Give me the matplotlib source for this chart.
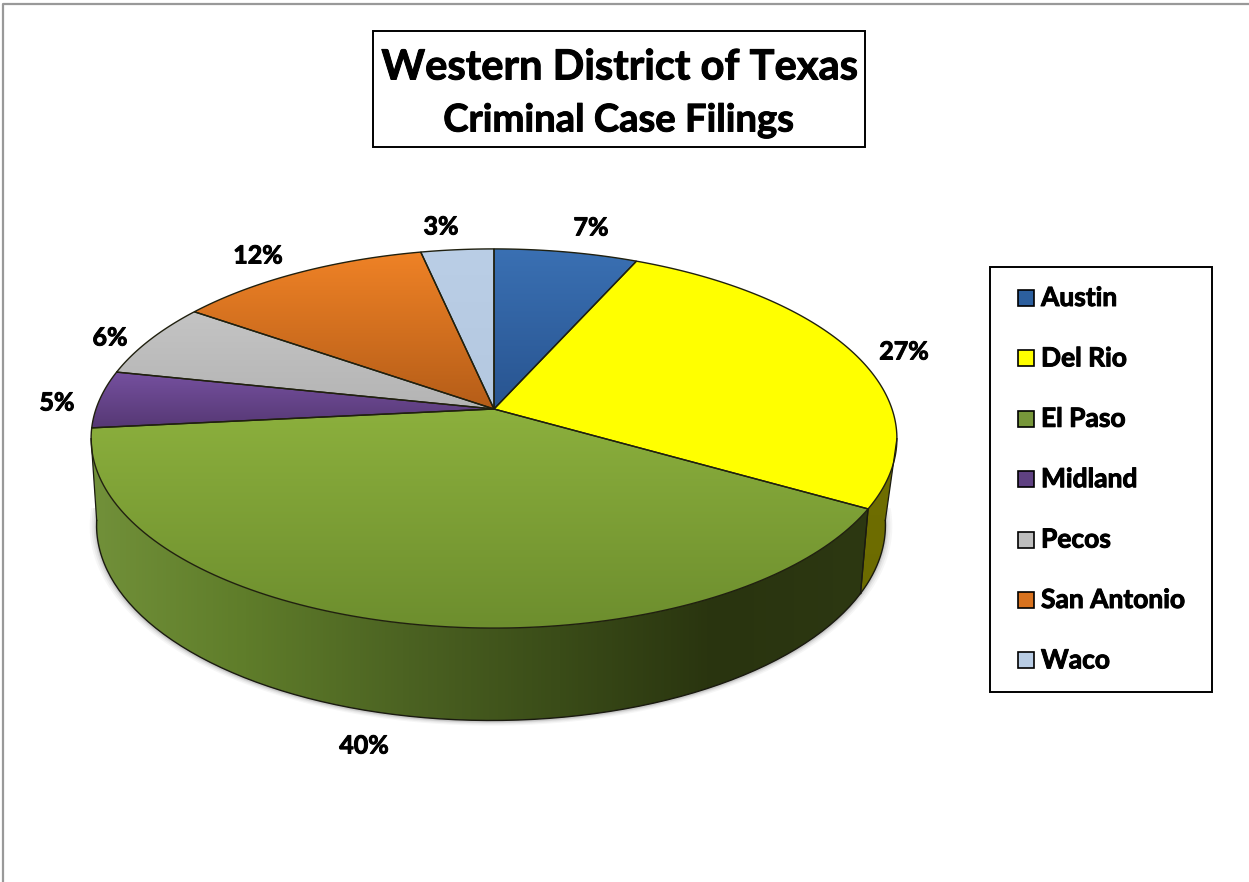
#!/usr/bin/env python3
import numpy as np
import matplotlib
matplotlib.use('Agg')
import matplotlib.pyplot as plt
import matplotlib.patheffects as pe
from matplotlib.colors import LinearSegmentedColormap
from matplotlib.patches import Polygon, Rectangle

# data
cities = ['Austin', 'Del Rio', 'El Paso', 'Midland', 'Pecos', 'San Antonio', 'Waco']
shares = [6.7, 26.6, 40.1, 4.9, 6.4, 11.9, 3.4]

# top and bottom colour of each top face
top_colors = ['#3a70b3', '#ffff00', '#8cb03d', '#75509f', '#c4c4c4', '#ef8226', '#bacee6']
low_colors = ['#285490', '#ffff00', '#6d8e2e', '#563874', '#b4b4b4', '#b55d18', '#b4c8e0']
swatch_colors = ['#2c5f9e', '#ffff00', '#77973a', '#5f4182', '#bdbdbd', '#d9731f', '#b9cde5']

label_xy = [(591, 228), (904, 352), (364, 746), (57, 403), (110, 338), (258, 256), (441, 227)]

CX, CY = 494, 409
HEAVY = [pe.withStroke(linewidth=0.7, foreground='black')]


def top_face(deg):
    t = np.radians(deg)
    u, v = np.sin(t), np.cos(t)
    d = 1 + 0.1556 * v
    return CX + 398 * u / d, CY - 185 * v / d


def bottom_face(deg):
    t = np.radians(deg)
    u, v = np.sin(t), np.cos(t)
    d = 1 + 0.18 * v
    return CX - 3 + 388 * u / d, 490 - 189 * v / d


def gradient_fill(ax, verts, colors, horizontal=False, extent=None):
    cmap = LinearSegmentedColormap.from_list('g', colors)
    xs, ys = zip(*verts)
    if extent is None:
        extent = (min(xs), max(xs), max(ys), min(ys))
    grad = np.linspace(0, 1, 256)
    grad = grad.reshape(1, -1) if horizontal else grad.reshape(-1, 1)
    im = ax.imshow(grad, cmap=cmap, extent=extent, aspect='auto', zorder=3,
                   interpolation='bilinear')
    patch = Polygon(verts, closed=True, transform=ax.transData, fc='none', ec='none')
    ax.add_patch(patch)
    im.set_clip_path(patch)


fig = plt.figure(figsize=(12.49, 8.82), dpi=100)
ax = fig.add_axes([0, 0, 1, 1])
plt.rcParams['font.family'] = ['Lato', 'DejaVu Sans']

# outer border
ax.plot([3.5, 3.5, 1249], [882, 3.5, 3.5], color='#999999', lw=1.6, zorder=1)

stops = np.cumsum([0] + shares) / np.sum(shares) * 360

# soft shadow under the wall
arc = np.linspace(95, 265, 120)
for grow, alpha in zip([7, 5, 3, 1.5], [0.05, 0.07, 0.1, 0.14]):
    pts = [(bottom_face(a)[0] + grow * np.sin(np.radians(a)),
            bottom_face(a)[1] - grow * np.cos(np.radians(a)) * 0.6 + 1) for a in arc]
    ax.add_patch(Polygon(pts, closed=True, fc='#555555', ec='none', alpha=alpha, zorder=2))

# side wall, only the front part shows
left_tangent, right_tangent = 261, 99
wall_ramps = {1: ['#706f00', '#6c6b00'],
              2: ['#72913a', '#5f7d2a', '#4c6322', '#3a4c18', '#29340f', '#2d3812']}
for i, ramp in wall_ramps.items():
    a0 = max(stops[i], right_tangent)
    a1 = min(stops[i + 1], left_tangent)
    angs = np.linspace(a0, a1, 150)
    upper = [top_face(a) for a in angs]
    lower = [bottom_face(a) for a in angs]
    verts = upper + lower[::-1]
    if i == 2:
        # ramp runs from the left of the pie to the right
        gradient_fill(ax, verts, ramp, horizontal=True, extent=(85, 875, 730, 420))
    else:
        gradient_fill(ax, verts, ramp)
    ax.plot(*zip(*lower), color='#1a1a10', lw=1.0, zorder=4)
    ax.plot(*zip(upper[0], lower[0]), color='#1a1a10', lw=0.9, zorder=4)
    ax.plot(*zip(upper[-1], lower[-1]), color='#1a1a10', lw=0.9, zorder=4)

# top faces
for i in range(len(shares)):
    angs = np.linspace(stops[i], stops[i + 1], 120)
    verts = [(CX, CY)] + [top_face(a) for a in angs]
    gradient_fill(ax, verts, [top_colors[i], low_colors[i]])
    ax.add_patch(Polygon(verts, closed=True, fc='none', ec='#20200f', lw=1.0, zorder=5))

# percentage labels
for share, (lx, ly) in zip(shares, label_xy):
    ax.text(lx, ly, '%d%%' % round(share), ha='center', va='center', fontsize=18,
            fontweight='bold', color='black', zorder=6, path_effects=HEAVY)

# title box
ax.add_patch(Rectangle((373.5, 31), 492, 116, fc='white', ec='black', lw=1.4, zorder=6))
ax.text(619.5, 67.5, 'Western District of Texas', ha='center', va='center',
        fontsize=30, fontweight='bold', zorder=7, path_effects=HEAVY)
ax.text(619, 120.5, 'Criminal Case Filings', ha='center', va='center',
        fontsize=27.5, fontweight='bold', zorder=7, path_effects=HEAVY)

# legend box
ax.add_patch(Rectangle((990.5, 266.5), 222, 425, fc='white', ec='black', lw=1.4, zorder=6))
for i, city in enumerate(cities):
    y = 298 + i * 60.4
    ax.add_patch(Rectangle((1018.5, y - 8), 16, 16, fc=swatch_colors[i], ec='black',
                           lw=1.2, zorder=7))
    ax.text(1041, y, city, ha='left', va='center', fontsize=19, fontweight='bold',
            zorder=7, path_effects=HEAVY)

ax.set_xlim(0, 1249)
ax.set_ylim(882, 0)
ax.axis('off')
fig.savefig('out.png', dpi=100)
